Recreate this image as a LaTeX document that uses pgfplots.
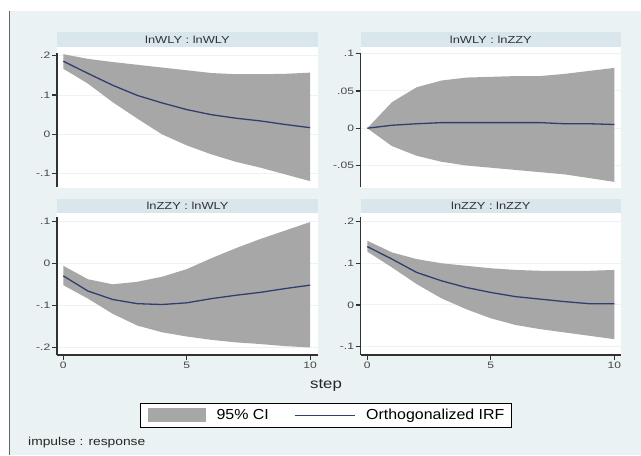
\documentclass[border=0pt]{standalone}
\usepackage{fontspec}
\setmainfont{Liberation Sans}
\newfontfamily\tickf[FakeStretch=1.3]{Liberation Sans}
\newfontfamily\titf[FakeStretch=1.26]{Liberation Sans}
\newfontfamily\stepf[FakeStretch=1.2]{Liberation Sans}
\newfontfamily\legf[FakeStretch=1.1]{Liberation Sans}
\usepackage{pgfplots}
\pgfplotsset{compat=1.18}
\usepackage{pgfplotstable}

\definecolor{bgc}{RGB}{234,242,243}
\definecolor{stripc}{RGB}{217,230,235}
\definecolor{cigray}{RGB}{167,167,167}
\definecolor{irfblue}{RGB}{50,62,110}
\definecolor{axc}{RGB}{50,50,50}
\definecolor{tickc}{RGB}{70,70,70}
\definecolor{gridc}{RGB}{236,243,244}

% orthogonalized IRF, step 0..10
\pgfplotstableread{
step irf
0 .186
1 .155
2 .125
3 .099
4 .080
5 .063
6 .050
7 .041
8 .034
9 .025
10 .017
}\irfA
\pgfplotstableread{
step irf
0 0
1 .004
2 .006
3 .0075
4 .0075
5 .0075
6 .0075
7 .0075
8 .006
9 .006
10 .005
}\irfB
\pgfplotstableread{
step irf
0 -.030
1 -.066
2 -.086
3 -.096
4 -.098
5 -.094
6 -.084
7 -.076
8 -.069
9 -.060
10 -.052
}\irfC
\pgfplotstableread{
step irf
0 .140
1 .110
2 .078
3 .058
4 .042
5 .030
6 .020
7 .014
8 .008
9 .003
10 .003
}\irfD
% 95% CI bands: upper bound steps 0..10, then lower bound steps 10..0
\pgfplotstableread{
step ci
0 .204
1 .192
2 .184
3 .177
4 .170
5 .163
6 .156
7 .153
8 .153
9 .154
10 .157
10 -.119
9 -.102
8 -.085
7 -.070
6 -.051
5 -.028
4 .000
3 .040
2 .082
1 .129
0 .167
}\ciA
\pgfplotstableread{
step ci
0 0
1 .035
2 .055
3 .064
4 .068
5 .069
6 .070
7 .070
8 .073
9 .077
10 .081
10 -.072
9 -.067
8 -.062
7 -.059
6 -.056
5 -.053
4 -.050
3 -.045
2 -.037
1 -.024
0 0
}\ciB
\pgfplotstableread{
step ci
0 -.006
1 -.038
2 -.050
3 -.044
4 -.032
5 -.014
6 .012
7 .036
8 .058
9 .078
10 .098
10 -.200
9 -.197
8 -.192
7 -.188
6 -.182
5 -.174
4 -.164
3 -.148
2 -.120
1 -.084
0 -.052
}\ciC
\pgfplotstableread{
step ci
0 .154
1 .126
2 .110
3 .100
4 .094
5 .088
6 .084
7 .082
8 .082
9 .082
10 .084
10 -.082
9 -.074
8 -.066
7 -.058
6 -.048
5 -.032
4 -.010
3 .016
2 .050
1 .090
0 .128
}\ciD

\pgfplotsset{
  irf/.style={
    scale only axis, anchor=south west,
    axis y line*=left,
    tick align=outside,
    major tick length=5pt,
    ymajorgrids,
    grid style={color=gridc, line width=1pt},
    axis line style={color=axc, line width=1.3pt},
    every tick/.style={color=axc, line width=1.1pt},
    tick label style={font=\tickf\fontsize{9.3}{10}\selectfont, text=tickc, inner sep=1.5pt},
    clip=false,
  },
  topax/.style={irf, axis x line=none, xtick=\empty},
  botax/.style={irf, axis x line*=bottom, xtick={0,5,10}, xticklabels={0,5,10}},
  band/.style={fill=cigray, draw=none},
  irfl/.style={irfblue, line width=1.3pt},
}

\begin{document}
\begin{tikzpicture}
\begin{scope}[x=1pt,y=1pt]
\fill[white] (0,0) rectangle (641,455);
\fill[bgc] (9,0) rectangle (641,444);
\draw[color=gray!80!black, line width=1pt] (9,0) -- (9,444);
% plot regions
\fill[white] (57,267) rectangle (318,408);
\fill[white] (360.7,267) rectangle (621,408);
\fill[white] (57,100) rectangle (318,242);
\fill[white] (360.7,100) rectangle (621,242);
% strips
\fill[stripc] (57,408) rectangle (318,423);
\fill[stripc] (360.7,408) rectangle (621,423);
\fill[stripc] (57,242) rectangle (318,256);
\fill[stripc] (360.7,242) rectangle (621,256);
\node[font=\titf\fontsize{10.2}{11}\selectfont, text=axc] at (187.5,415.5) {lnWLY : lnWLY};
\node[font=\titf\fontsize{10.2}{11}\selectfont, text=axc] at (490.85,415.5) {lnWLY : lnZZY};
\node[font=\titf\fontsize{10.2}{11}\selectfont, text=axc] at (187.5,249) {lnZZY : lnWLY};
\node[font=\titf\fontsize{10.2}{11}\selectfont, text=axc] at (490.85,249) {lnZZY : lnZZY};
\node[font=\stepf\fontsize{14}{16}\selectfont, text=black!85] at (326,69.3) {step};
\node[font=\stepf\fontsize{11.5}{13}\selectfont, text=black!85, anchor=west, inner sep=0pt] at (28,12.3) {impulse : response};
\end{scope}

% top-left
\begin{axis}[topax, at={(57pt,268pt)}, width=261pt, height=134pt,
  xmin=-0.255, xmax=10.32, ymin=-0.134, ymax=0.207,
  ytick={-0.1,0,0.1,0.2}, yticklabels={-.1,0,.1,.2}]
\addplot[band] table[x=step,y=ci]{\ciA} -- cycle;
\addplot[irfl] table[x=step,y=irf]{\irfA};
\end{axis}

% top-right
\begin{axis}[topax, at={(360.7pt,268pt)}, width=260.3pt, height=134pt,
  xmin=-0.267, xmax=10.27, ymin=-0.0789, ymax=0.101,
  ytick={-0.05,0,0.05,0.1}, yticklabels={-.05,0,.05,.1}]
\addplot[band] table[x=step,y=ci]{\ciB} -- cycle;
\addplot[irfl] table[x=step,y=irf]{\irfB};
\end{axis}

% bottom-left
\begin{axis}[botax, at={(57pt,100pt)}, width=261pt, height=138pt,
  xmin=-0.255, xmax=10.32, ymin=-0.218, ymax=0.110,
  ytick={-0.2,-0.1,0,0.1}, yticklabels={-.2,-.1,0,.1}]
\addplot[band] table[x=step,y=ci]{\ciC} -- cycle;
\addplot[irfl] table[x=step,y=irf]{\irfC};
\end{axis}

% bottom-right
\begin{axis}[botax, at={(360.7pt,100pt)}, width=260.3pt, height=138pt,
  xmin=-0.267, xmax=10.27, ymin=-0.12, ymax=0.211,
  ytick={-0.1,0,0.1,0.2}, yticklabels={-.1,0,.1,.2},
  legend columns=2,
  legend style={at={(axis description cs:-0.1333,-0.438)}, anchor=center,
    draw=black, line width=0.9pt, fill=white, inner xsep=7pt, inner ysep=5pt,
    font=\legf\fontsize{14.5}{16}\selectfont, nodes={inner sep=0pt},
    /tikz/every odd column/.append style={column sep=11pt},
    /tikz/every even column/.append style={column sep=25pt}},
  legend cell align=left]
\addplot[band,
  legend image code/.code={\fill[cigray] (0pt,-7pt) rectangle (58pt,7pt);}]
  table[x=step,y=ci]{\ciD} -- cycle;
\addlegendentry{95\% CI}
\addplot[irfl,
  legend image code/.code={\draw[irfblue, line width=1.3pt] (0pt,0pt) -- (60pt,0pt);}]
  table[x=step,y=irf]{\irfD};
\addlegendentry{Orthogonalized IRF}
\end{axis}
\end{tikzpicture}
\end{document}
